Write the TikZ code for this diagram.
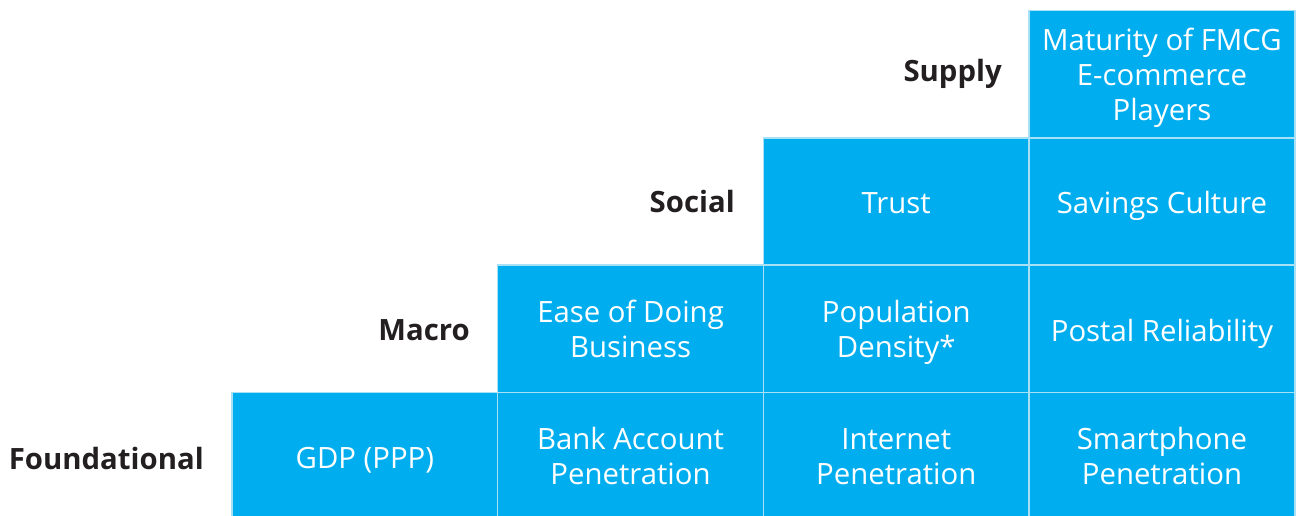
\documentclass[tikz,border=0pt]{standalone}
\usepackage{fontspec}
\setmainfont{Open Sans}
\definecolor{cellblue}{HTML}{00AEEF}
\definecolor{celledge}{HTML}{A8E0F6}
\definecolor{labeldark}{HTML}{231F20}
\begin{document}
\begin{tikzpicture}[x=0.75pt,y=-0.75pt,
  cell/.style={rectangle,fill=cellblue,draw=celledge,line width=1.1pt,
    minimum width=265.7*0.75pt,minimum height=127.3*0.75pt,inner sep=0pt},
  celltext/.style={text=white,align=center,inner sep=0pt,yshift=-4.1pt,
    font=\fontsize{22}{26.25}\selectfont,
    execute at begin node=\strut,execute at end node=\strut},
  rowlabel/.style={anchor=east,text=labeldark,inner sep=0pt,
    font=\fontsize{22}{26.25}\selectfont\bfseries}]
\useasboundingbox (0,0) rectangle (1299,516);
\clip (0,0) rectangle (1299,516);
% columns: 232, 497.7, 763.4, 1029.1, 1294.8 ; rows: 10.5, 137.8, 265.1, 392.4, 519.7
\node[cell,label={[celltext]center:{Maturity of FMCG\\E-commerce\\Players}}] (supply4) at (1161.95,74.15) {};
\node[cell,label={[celltext]center:{Trust}}] (social3) at (896.25,201.45) {};
\node[cell,label={[celltext]center:{Savings Culture}}] (social4) at (1161.95,201.45) {};
\node[cell,label={[celltext]center:{Ease of Doing\\Business}}] (macro2) at (630.55,328.75) {};
\node[cell,label={[celltext]center:{Population\\Density*}}] (macro3) at (896.25,328.75) {};
\node[cell,label={[celltext]center:{Postal Reliability}}] (macro4) at (1161.95,328.75) {};
\node[cell,label={[celltext]center:{GDP (PPP)}}] (found1) at (364.85,456.05) {};
\node[cell,label={[celltext]center:{Bank Account\\Penetration}}] (found2) at (630.55,456.05) {};
\node[cell,label={[celltext]center:{Internet\\Penetration}}] (found3) at (896.25,456.05) {};
\node[cell,label={[celltext]center:{Smartphone\\Penetration}}] (found4) at (1161.95,456.05) {};
\node[rowlabel] (lsupply) at (1002,74) {Supply};
\node[rowlabel] (lsocial) at (735,202) {Social};
\node[rowlabel] (lmacro) at (470,330) {Macro};
\node[rowlabel] (lfound) at (204,458) {Foundational};
\end{tikzpicture}
\end{document}
